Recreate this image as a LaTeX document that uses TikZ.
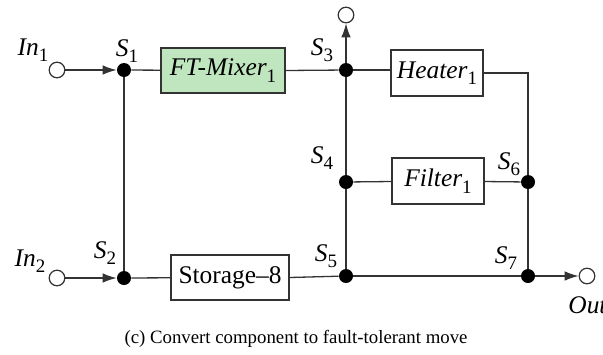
\documentclass[tikz,border=0pt]{standalone}
\usepackage{fontspec}
\setmainfont{Liberation Serif}
\usetikzlibrary{arrows.meta}
\newcommand\lbl[2]{{\itshape #1}\raisebox{-0.55ex}{\fontsize{9.5}{9.5}\selectfont #2}}
\begin{document}
\begin{tikzpicture}[x=0.5pt,y=-0.5pt,
  wire/.style={line width=0.65pt,draw=black!80},
  dot/.style={circle,fill=black,inner sep=0pt,minimum size=7pt},
  port/.style={circle,draw=black!80,fill=white,line width=0.6pt,inner sep=0pt,minimum size=7.8pt},
  comp/.style={draw=black!80,line width=0.65pt,inner sep=0pt,font=\fontsize{12.7}{14}\selectfont},
  txt/.style={inner sep=0pt,font=\fontsize{12.7}{14}\selectfont},
  arr/.style={wire,-{Latex[length=7pt,width=4.8pt]}}]
\useasboundingbox (0,0) rectangle (603,354);
% ports
\node[port] (in1) at (57,70) {};
\node[port] (in2) at (57,278) {};
\node[port] (top) at (346,15) {};
\node[port] (out) at (587,276) {};
% junctions
\node[dot] (s1) at (124,70) {};
\node[dot] (s2) at (124,278) {};
\node[dot] (s3) at (346,70) {};
\node[dot] (s4) at (346,182) {};
\node[dot] (s5) at (346,276) {};
\node[dot] (s6) at (528,182) {};
\node[dot] (s7) at (528,276) {};
% components
\node[comp,fill=green!60!black!25,minimum width=62pt,minimum height=22.5pt] (mix) at (223,70.5) {\lbl{FT-Mixer}{1}};
\node[comp,minimum width=46pt,minimum height=23pt] (heat) at (437,73) {\lbl{Heater}{1}};
\node[comp,minimum width=46pt,minimum height=23pt] (filt) at (438,181) {\lbl{Filter}{1}};
\node[comp,minimum width=59pt,minimum height=22.5pt] (stor) at (230,277.5) {Storage--8};
% labels
\node[txt] (l1) at (127,51) {\lbl{S}{1}};
\node[txt] (l2) at (105,253) {\lbl{S}{2}};
\node[txt] (l3) at (322,50) {\lbl{S}{3}};
\node[txt] (l4) at (322,158) {\lbl{S}{4}};
\node[txt] (l5) at (326,256) {\lbl{S}{5}};
\node[txt] (l6) at (509,164) {\lbl{S}{6}};
\node[txt] (l7) at (506,258) {\lbl{S}{7}};
\node[txt] (lin1) at (33,50) {\lbl{In}{1}};
\node[txt] (lin2) at (30,261) {\lbl{In}{2}};
\node[txt,anchor=west] (lout) at (568,305) {\itshape Out};
\node[inner sep=0pt,font=\fontsize{9.4}{11}\selectfont] (cap) at (296,339) {(c) Convert component to fault-tolerant move};
% wires
\draw[arr] (in1) -- (s1);
\draw[arr] (in2) -- (s2);
\draw[arr] (s3) -- (top);
\draw[arr] (s7) -- (out);
\draw[wire] (s1) -- (mix);
\draw[wire] (s1) -- (s2);
\draw[wire] (s2) -- (stor);
\draw[wire] (mix.east) -- (s3);
\draw[wire] (s3) -- (heat.west |- s3);
\draw[wire] (s3) -- (s4);
\draw[wire] (s4) -- (s5);
\draw[wire] (s4) -- (filt);
\draw[wire] (filt) -- (s6);
\draw[wire] (heat.east) -| (s6);
\draw[wire] (s6) -- (s7);
\draw[wire] (stor.east) -- (s5);
\draw[wire] (s5) -- (s7);
\end{tikzpicture}
\end{document}
